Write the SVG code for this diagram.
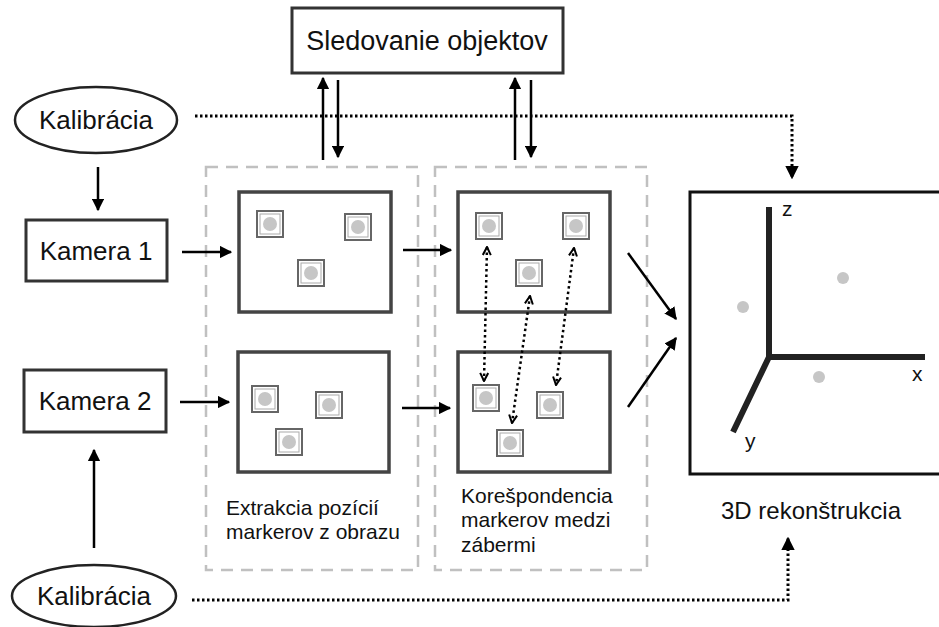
<svg xmlns="http://www.w3.org/2000/svg" width="939" height="627" viewBox="0 0 939 627">
<defs>
<marker id="ah" viewBox="0 0 10 10" refX="9" refY="5" markerWidth="5" markerHeight="5" markerUnits="strokeWidth" orient="auto">
<path d="M0,0 L10,5 L0,10 z" fill="#000"/>
</marker>
<marker id="ahd" viewBox="0 0 10 10" refX="9" refY="5" markerWidth="4.5" markerHeight="4.5" markerUnits="strokeWidth" orient="auto">
<path d="M0,0 L10,5 L0,10 z" fill="#000"/>
</marker>
<marker id="chev" viewBox="0 0 10 10" refX="9" refY="5" markerWidth="4" markerHeight="4" markerUnits="strokeWidth" orient="auto-start-reverse">
<path d="M1,1 L9,5 L1,9" fill="none" stroke="#000" stroke-width="2"/>
</marker>
<g id="mk">
<rect x="-13" y="-13" width="26" height="26" fill="#fff" stroke="#666" stroke-width="2"/>
<rect x="-10" y="-10" width="20" height="20" fill="none" stroke="#aaa" stroke-width="1"/>
<circle r="7" fill="#c6c6c6"/>
</g>
</defs>
<style>
text{font-family:"Liberation Sans",Arial,sans-serif;fill:#111}
.box{fill:#fff;stroke:#333;stroke-width:3}
.img{fill:#fff;stroke:#444;stroke-width:3.5}
.dash{fill:none;stroke:#c0c0c0;stroke-width:2.5;stroke-dasharray:12 8}
.arr{fill:none;stroke:#000;stroke-width:2.5;marker-end:url(#ah)}
.dot{fill:none;stroke:#000;stroke-width:3;stroke-dasharray:2.5 2.5}
.dotend{marker-end:url(#ahd)}
.corr{fill:none;stroke:#000;stroke-width:2.5;stroke-dasharray:2.5 3;marker-start:url(#chev);marker-end:url(#chev)}
.axis{stroke:#222;stroke-width:6;fill:none}
.lbl{font-size:21px}
</style>

<g id="stages">
<rect class="dash" x="206" y="167" width="212" height="403"/>
<rect class="dash" x="435" y="167" width="212" height="403"/>
</g>

<g id="sledovanie">
<rect class="box" x="292" y="8" width="271" height="65"/>
<text x="427" y="50" font-size="27" text-anchor="middle">Sledovanie objektov</text>
</g>

<g id="kalibracia1">
<ellipse cx="96" cy="120" rx="81" ry="33" fill="#fff" stroke="#222" stroke-width="2.5"/>
<text x="96" y="129" font-size="26" text-anchor="middle">Kalibrácia</text>
</g>

<g id="kalibracia2">
<ellipse cx="94" cy="596" rx="82" ry="31" fill="#fff" stroke="#222" stroke-width="2.5"/>
<text x="94" y="605" font-size="26" text-anchor="middle">Kalibrácia</text>
</g>

<g id="kamera1">
<rect class="box" x="26" y="220" width="141" height="61"/>
<text x="96" y="260" font-size="26" text-anchor="middle">Kamera 1</text>
</g>

<g id="kamera2">
<rect class="box" x="24" y="370" width="142" height="62"/>
<text x="95" y="410" font-size="26" text-anchor="middle">Kamera 2</text>
</g>

<g id="img-a">
<rect class="img" x="239" y="192" width="152" height="120"/>
<use href="#mk" x="270" y="224"/>
<use href="#mk" x="358" y="227"/>
<use href="#mk" x="311" y="273"/>
</g>

<g id="img-b">
<rect class="img" x="238" y="352" width="151" height="120"/>
<use href="#mk" x="265" y="399"/>
<use href="#mk" x="329" y="405"/>
<use href="#mk" x="289" y="442"/>
</g>

<g id="img-c">
<rect class="img" x="458" y="192" width="152" height="120"/>
<use href="#mk" x="489" y="226"/>
<use href="#mk" x="576" y="226"/>
<use href="#mk" x="529" y="273"/>
</g>

<g id="img-d">
<rect class="img" x="458" y="352" width="152" height="120"/>
<use href="#mk" x="486" y="398"/>
<use href="#mk" x="550" y="405"/>
<use href="#mk" x="510" y="443"/>
</g>

<g id="rekonstrukcia">
<rect fill="#fff" stroke="#111" stroke-width="3" x="690" y="192" width="260" height="282"/>
<path class="axis" d="M769,207 V357 H925 M769,357 L733,432"/>
<circle cx="743" cy="307" r="6" fill="#c6c6c6"/>
<circle cx="843" cy="278" r="6" fill="#c6c6c6"/>
<circle cx="819" cy="377" r="6" fill="#c6c6c6"/>
<text x="782" y="216" font-size="21">z</text>
<text x="912" y="381" font-size="21">x</text>
<text x="745" y="448" font-size="21">y</text>
</g>

<g id="labels">
<text class="lbl" x="226" y="515">Extrakcia pozícií</text>
<text class="lbl" x="226" y="539">markerov z obrazu</text>
<text class="lbl" x="461" y="503">Korešpondencia</text>
<text class="lbl" x="461" y="527">markerov medzi</text>
<text class="lbl" x="461" y="552">zábermi</text>
<text x="811" y="519" font-size="24" text-anchor="middle">3D rekonštrukcia</text>
</g>

<g id="connectors">
<line class="arr" x1="323" y1="160" x2="323" y2="78"/>
<line class="arr" x1="338" y1="80" x2="338" y2="157"/>
<line class="arr" x1="515" y1="160" x2="515" y2="78"/>
<line class="arr" x1="531" y1="80" x2="531" y2="157"/>
<line class="arr" x1="98" y1="167" x2="98" y2="210"/>
<line class="arr" x1="94" y1="548" x2="94" y2="450"/>
<line class="arr" x1="182" y1="252" x2="231" y2="252"/>
<line class="arr" x1="403" y1="250" x2="451" y2="250"/>
<line class="arr" x1="180" y1="402" x2="229" y2="402"/>
<line class="arr" x1="402" y1="408" x2="450" y2="408"/>
<line class="arr" x1="628" y1="253" x2="676" y2="319"/>
<line class="arr" x1="628" y1="407" x2="676" y2="338"/>
<path class="dot dotend" d="M195,116 H792 V178"/>
<path class="dot dotend" d="M192,600 H788 V538"/>
<line class="corr" x1="487" y1="247" x2="484" y2="381"/>
<line class="corr" x1="530" y1="296" x2="512" y2="423"/>
<line class="corr" x1="574" y1="248" x2="556" y2="385"/>
</g>
</svg>
